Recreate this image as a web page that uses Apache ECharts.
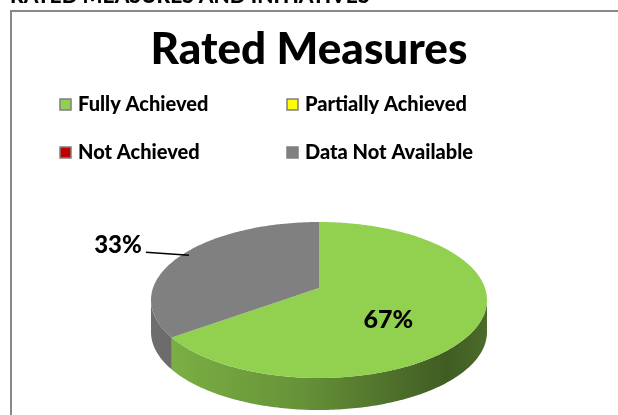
<!DOCTYPE html>
<html>
<head>
<meta charset="utf-8">
<script src="https://cdn.jsdelivr.net/npm/echarts@6/dist/echarts.min.js"></script>
<style>
  html, body { margin: 0; padding: 0; background: #fff; }
  #chart { width: 618px; height: 415px; }
</style>
</head>
<body>
<div id="chart"></div>
<script>
// ---- data ----
var categories = ['Fully Achieved', 'Partially Achieved', 'Not Achieved', 'Data Not Available'];
var values = [67, 0, 0, 33];
var colors = ['#92d050', '#ffff00', '#c00000', '#808080'];
var chartTitle = 'Rated Measures';
var headerText = 'RATED MEASURES AND INITIATIVES';

// ---- layout ----
var FONT = 'Lato';
var CX = 319, CY = 300, RX = 168, RY = 78, DEPTH = 32, VSHIFT = -12;
var total = values.reduce(function (a, b) { return a + b; }, 0);

function darken(color, k) {
  var arr = echarts.color.parse(color);
  return 'rgb(' + Math.round(arr[0] * k) + ',' + Math.round(arr[1] * k) + ',' + Math.round(arr[2] * k) + ')';
}
function pt(thetaDeg, f, dy) {
  var t = thetaDeg * Math.PI / 180;
  return [CX + RX * f * Math.sin(t), CY + (dy || 0) - RY * f * Math.cos(t)];
}
function arc(a, b, dy) {
  var pts = [], step = (b >= a ? 1 : -1), n = Math.ceil(Math.abs(b - a));
  for (var i = 0; i <= n; i++) {
    var th = (i === n) ? b : a + step * i;
    pts.push(pt(th, 1, dy));
  }
  return pts;
}
function txt(text, size, extra) {
  var s = { text: text, fill: '#000', fontFamily: FONT, fontWeight: 900, fontSize: size };
  for (var k in extra) s[k] = extra[k];
  return s;
}

function renderItem(params, api) {
  var idx = params.dataIndex;
  var v = api.value(0);
  if (!v) return { type: 'group', children: [] };
  var before = 0;
  for (var i = 0; i < idx; i++) before += values[i];
  var th0 = before / total * 360, th1 = (before + v) / total * 360;
  var c = colors[idx];
  var children = [];
  // side wall (front half only)
  var a = Math.max(th0, 90), b = Math.min(th1, 270);
  if (a < b) {
    var sidePts = arc(a, b, 0).concat(arc(b, a, DEPTH));
    children.push({
      type: 'polygon', z2: 1,
      shape: { points: sidePts },
      style: {
        fill: new echarts.graphic.LinearGradient(CX - RX, 0, CX + RX, 0, [
          { offset: 0, color: darken(c, 0.86) },
          { offset: 0.45, color: darken(c, 0.7) },
          { offset: 0.88, color: darken(c, 0.44) },
          { offset: 1, color: darken(c, 0.52) }
        ], true)
      }
    });
  }
  // top face
  var topPts = [[CX, CY + VSHIFT]].concat(arc(th0, th1, 0));
  children.push({
    type: 'polygon', z2: 10,
    shape: { points: topPts },
    style: { fill: c }
  });
  // label
  var pct = Math.round(v / total * 100) + '%';
  var mid = (th0 + th1) / 2;
  if (v / total >= 0.5) {
    var p = pt(mid, 0.5, 0);
    children.push({
      type: 'text', z2: 20, x: p[0] - 3, y: p[1],
      style: txt(pct, 25, { align: 'center', verticalAlign: 'middle' })
    });
  } else {
    var q = pt(mid, 0.9, -9);
    var qx = q[0] - 43, qy = q[1] - 3;
    children.push({
      type: 'line', z2: 20,
      shape: { x1: q[0], y1: q[1], x2: qx, y2: qy },
      style: { stroke: '#000', lineWidth: 1.5 }
    });
    children.push({
      type: 'text', z2: 20, x: qx - 4, y: qy - 7,
      style: txt(pct, 24, { align: 'right', verticalAlign: 'middle' })
    });
  }
  return { type: 'group', children: children };
}

// legend graphics (2 x 2 grid)
var legendGraphics = [];
var colX = [60, 287], rowY = [105, 153];
categories.forEach(function (name, i) {
  var x = colX[i % 2], y = rowY[Math.floor(i / 2)];
  legendGraphics.push({
    type: 'rect', x: x, y: y - 6,
    shape: { x: 0, y: 0, width: 11, height: 11 },
    style: { fill: colors[i], stroke: '#7f7f7f', lineWidth: 1.5 }
  });
  legendGraphics.push({
    type: 'text', x: x + 18, y: y,
    style: txt(name, 20, { verticalAlign: 'middle' })
  });
});

var chart = echarts.init(document.getElementById('chart'), null, { renderer: 'canvas' });
chart.setOption({
  animation: false,
  backgroundColor: '#fff',
  title: {
    text: chartTitle, left: 'center', top: 23,
    padding: [5, 0, 5, 11],
    textStyle: { fontFamily: FONT, fontSize: 44, fontWeight: 900, color: '#000' }
  },
  graphic: [
    {
      type: 'text', x: 10, y: 7,
      style: txt(headerText, 21, { verticalAlign: 'bottom' })
    },
    {
      type: 'rect', x: 11, y: 11,
      shape: { x: 0, y: 0, width: 700, height: 500 },
      style: { fill: 'none', stroke: '#888', lineWidth: 2 }
    }
  ].concat(legendGraphics),
  series: [{
    type: 'custom',
    coordinateSystem: 'none',
    renderItem: renderItem,
    data: values.map(function (v, i) { return { name: categories[i], value: [v] }; })
  }]
});
</script>
</body>
</html>
